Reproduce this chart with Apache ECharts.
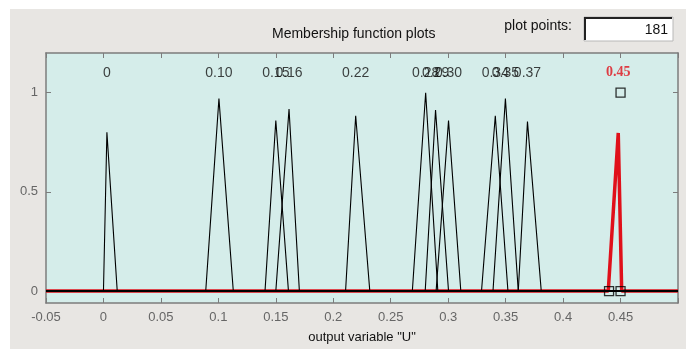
<!DOCTYPE html>
<html>
<head>
<meta charset="utf-8">
<script src="https://cdn.jsdelivr.net/npm/echarts@6/dist/echarts.min.js"></script>
<style>
html, body { margin: 0; padding: 0; background: #fff; }
#main { width: 686px; height: 349px; }
</style>
</head>
<body>
<div id="main"></div>
<script>
// membership functions of output variable "U"
var mfNames = ['0', '0.10', '0.15', '0.16', '0.22', '0.28', '0.29', '0.30', '0.34', '0.35', '0.37', '0.45'];
var mfLeft = [0, 0.089, 0.1406, 0.15, 0.2107, 0.2688, 0.28, 0.2895, 0.329, 0.339, 0.361, 0.4393];
var mfPeak = [0.003, 0.1005, 0.15, 0.1615, 0.2195, 0.2804, 0.289, 0.3003, 0.341, 0.3498, 0.369, 0.448];
var mfRight = [0.012, 0.113, 0.161, 0.1705, 0.2318, 0.291, 0.3003, 0.311, 0.352, 0.361, 0.381, 0.451];
var mfHeight = [0.80, 0.97, 0.86, 0.917, 0.884, 1.0, 0.913, 0.859, 0.884, 0.97, 0.854, 0.797];
var selectedMf = 11; // highlighted one (red)
var xRange = [-0.05, 0.5];
var yRange = [-0.06, 1.2];
var yTicks = [0, 0.5, 1];
var handlePoints = [[0.44, 0], [0.45, 0], [0.45, 1]];
var plotPoints = '181';

var labelY = 1.1;
var series = [];

// red one first so the black baselines sit on top of it
var order = [selectedMf];
for (var i = 0; i < mfNames.length; i++) {
    if (i != selectedMf) order.push(i);
}
for (var k = 0; k < order.length; k++) {
    var j = order[k];
    var red = (j == selectedMf);
    series.push({
        type: 'line',
        symbol: 'none',
        silent: true,
        z: red ? 2 : 3,
        lineStyle: { color: red ? '#e0101a' : '#000', width: red ? 3.5 : 1.1 },
        data: [[xRange[0], 0], [mfLeft[j], 0], [mfPeak[j], mfHeight[j]], [mfRight[j], 0], [xRange[1], 0]]
    });
}

// names above the curves
var nameData = [];
for (var i = 0; i < mfNames.length; i++) {
    var red = (i == selectedMf);
    nameData.push({
        value: [mfPeak[i], labelY],
        label: red ? { color: '#e0101a', fontWeight: 'bold', fontFamily: 'Liberation Serif', fontSize: 14 } : {}
    });
}
series.push({
    type: 'scatter',
    symbolSize: 0,
    silent: true,
    z: 5,
    label: {
        show: true,
        position: 'inside',
        color: '#111',
        fontFamily: 'Liberation Sans',
        fontSize: 14,
        formatter: function(p) { return mfNames[p.dataIndex]; }
    },
    data: nameData
});

// edit handles of the selected function
series.push({
    type: 'scatter',
    symbol: 'rect',
    symbolSize: 9,
    silent: true,
    z: 6,
    itemStyle: { color: 'rgba(0,0,0,0)', borderColor: '#000', borderWidth: 1.3 },
    data: handlePoints
});

function fmt(v) {
    if (Math.abs(v - 0.5) < 1e-9) return '';
    return String(parseFloat(v.toFixed(2)));
}

var option = {
    backgroundColor: '#fff',
    animation: false,
    graphic: [
        { type: 'rect', z: -10, shape: { x: 10, y: 9, width: 676, height: 340 }, style: { fill: '#e8e6e3' } },
        { type: 'text', left: 272, top: 27, style: { text: 'Membership function plots', fill: '#111', font: '14px "Liberation Sans"' } },
        { type: 'text', right: 114, top: 19, style: { text: 'plot points:', fill: '#111', font: '14px "Liberation Sans"' } },
        { type: 'rect', shape: { x: 584, y: 17, width: 89, height: 24 }, style: { fill: '#fff', stroke: '#b8b8b8', lineWidth: 1 } },
        { type: 'polyline', shape: { points: [[585, 40], [585, 18], [672, 18]] }, style: { stroke: '#222', lineWidth: 2, fill: null } },
        { type: 'text', right: 18, top: 23, style: { text: plotPoints, fill: '#111', font: '14px "Liberation Sans"' } }
    ],
    grid: { left: 46, right: 8, top: 53, bottom: 42, show: true, backgroundColor: '#d5edea', borderWidth: 0 },
    xAxis: [{
        type: 'value',
        min: xRange[0],
        max: xRange[1],
        interval: 0.05,
        name: 'output variable "U"',
        nameLocation: 'middle',
        nameGap: 28,
        nameTextStyle: { color: '#111', fontFamily: 'Liberation Sans', fontSize: 13 },
        splitLine: { show: false },
        axisLine: { onZero: false, lineStyle: { color: '#7c7c7c', width: 1.5 } },
        axisTick: { inside: true, length: 5, lineStyle: { color: '#7c7c7c' } },
        axisLabel: { color: '#666', fontFamily: 'Liberation Sans', fontSize: 13, margin: 8, formatter: fmt }
    }, {
        type: 'value',
        position: 'top',
        min: xRange[0],
        max: xRange[1],
        interval: 0.05,
        splitLine: { show: false },
        axisLine: { onZero: false, lineStyle: { color: '#7c7c7c', width: 1.5 } },
        axisTick: { inside: true, length: 5, lineStyle: { color: '#7c7c7c' } },
        axisLabel: { show: false }
    }],
    yAxis: [{
        type: 'value',
        min: yRange[0],
        max: yRange[1],
        splitLine: { show: false },
        axisLine: { show: true, onZero: false, lineStyle: { color: '#7c7c7c', width: 1.5 } },
        axisTick: { inside: true, length: 5, customValues: yTicks, lineStyle: { color: '#7c7c7c' } },
        axisLabel: { color: '#666', fontFamily: 'Liberation Sans', fontSize: 13, margin: 8, customValues: yTicks }
    }, {
        type: 'value',
        position: 'right',
        min: yRange[0],
        max: yRange[1],
        splitLine: { show: false },
        axisLine: { show: true, onZero: false, lineStyle: { color: '#7c7c7c', width: 1.5 } },
        axisTick: { inside: true, length: 5, customValues: yTicks, lineStyle: { color: '#7c7c7c' } },
        axisLabel: { show: false }
    }],
    series: series
};

var chart = echarts.init(document.getElementById('main'));
chart.setOption(option);
</script>
</body>
</html>
